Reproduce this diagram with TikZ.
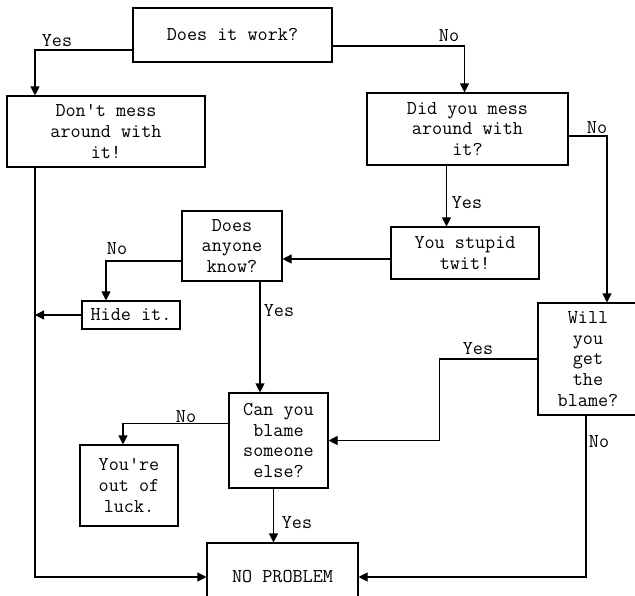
\documentclass[tikz,border=0pt]{standalone}
\usepackage{fontspec}
\usetikzlibrary{arrows.meta}

\begin{document}
\begin{tikzpicture}[x=1pt,y=-1pt,
    qbox/.style={draw,line width=1.1pt,align=center,inner sep=0pt,
        font=\ttfamily\fontsize{19.6}{20.8}\selectfont},
    flow/.style={line width=1.1pt,-{Triangle[length=9pt,width=9pt]}},
    lbl/.style={font=\ttfamily\fontsize{19.6}{20.8}\selectfont,inner sep=0pt}]
                %\draw[help lines] (0,0) grid (635,596);
                \useasboundingbox (0,0) rectangle (635,596);
                \clip (0,0) rectangle (635,596);
                \fill[white] (0,0) rectangle (635,596);
                % boxes
                \node[qbox,minimum width=199pt,minimum height=54pt] (work) at (232.5,35) {Does it work?};
                \node[qbox,minimum width=198pt,minimum height=71pt] (dontmess) at (106,131.5) {Don't mess\\around with\\it!};
                \node[qbox,minimum width=201pt,minimum height=72pt] (didmess) at (467.5,129) {Did you mess\\around with\\it?};
                \node[qbox,minimum width=148pt,minimum height=52pt] (twit) at (465,253) {You stupid\\twit!};
                \node[qbox,minimum width=100pt,minimum height=70pt] (anyone) at (232,246) {Does\\anyone\\know?};
                \node[qbox,minimum width=98pt,minimum height=28pt] (hide) at (131,315) {Hide it.};
                \node[qbox,minimum width=100pt,minimum height=112pt] (blame) at (588,359) {Will\\you\\get\\the\\blame?};
                \node[qbox,minimum width=99pt,minimum height=95pt] (canyou) at (278.5,440.5) {Can you\\blame\\someone\\else?};
                \node[qbox,minimum width=98pt,minimum height=81pt] (luck) at (129,485.5) {You're\\out of\\luck.};
                \node[qbox,minimum width=151pt,minimum height=68pt] (noproblem) at (282.5,577) {NO PROBLEM};
                \coordinate (rail) at (35,577);
                % connectors
                \draw[flow] ([yshift=-15pt]work.west) -| ([xshift=-71pt]dontmess.north);
                \draw[flow] ([yshift=-11pt]work.east) -| ([xshift=-3pt]didmess.north);
                \draw[flow] ([yshift=-7pt]didmess.east) -| ([xshift=19pt]blame.north);
                \draw[flow] ([xshift=-21pt]didmess.south) -- ([xshift=-21pt]didmess.south |- twit.north);
                \draw[flow] ([yshift=-6pt]twit.west) -- ([yshift=-6pt]twit.west -| anyone.east);
                \draw[flow] ([yshift=-15pt]anyone.west) -| ([xshift=-25pt]hide.north);
                \draw[flow] (hide.west) -- (hide.west -| rail);
                \draw[flow] ([xshift=-71pt]dontmess.south) |- (noproblem.west);
                \draw[flow] ([xshift=28pt]anyone.south) -- ([xshift=28pt]anyone.south |- canyou.north);
                \draw[flow] ([yshift=17pt]canyou.west) -| ([xshift=-6pt]luck.north);
                \draw[flow] ([xshift=-5pt]canyou.south) -- ([xshift=-5pt]canyou.south |- noproblem.north);
                \draw[flow] (blame.west) -- ++(-98,0) |- (canyou.east);
                \draw[flow] ([xshift=-2pt]blame.south) |- (noproblem.east);
                % labels
                \node[lbl] (yes1) at (57,41) {Yes};
                \node[lbl] (no1) at (449,36) {No};
                \node[lbl] (no2) at (597,128) {No};
                \node[lbl] (yes2) at (467,203) {Yes};
                \node[lbl] (no3) at (117,249) {No};
                \node[lbl] (yes3) at (279,311) {Yes};
                \node[lbl] (yes4) at (478,349) {Yes};
                \node[lbl] (no4) at (186,417) {No};
                \node[lbl] (yes5) at (297,523) {Yes};
                \node[lbl] (no5) at (599,442) {No};
            \end{tikzpicture}
\end{document}
